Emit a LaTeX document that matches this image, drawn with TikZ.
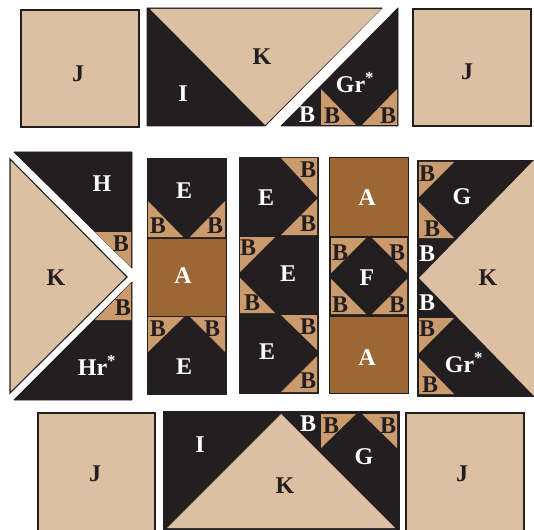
\documentclass[tikz,border=0pt]{standalone}
\usepackage{fontspec}
\setmainfont{Liberation Serif}

\definecolor{quiltdark}{HTML}{231F20}
\definecolor{quilttan}{HTML}{DDBFA2}
\definecolor{quiltpatch}{HTML}{CB9B6E}
\definecolor{quiltbrown}{HTML}{9D6735}

\newcommand{\quiltstar}{\textsuperscript{*}}

\tikzset{
	darkpiece/.style={fill=quiltdark, draw=quiltdark, line width=0.8pt, line join=round},
	tanpiece/.style={fill=quilttan, draw=quiltdark, line width=1.1pt},
	lightpiece/.style={fill=quilttan, draw=none},
	patchpiece/.style={fill=quiltpatch, draw=none},
	brownpiece/.style={fill=quiltbrown, draw=quiltdark, line width=1pt},
	darklabel/.style={text=quiltdark, font=\fontsize{24}{24}\selectfont\bfseries, inner sep=0pt},
	whitelabel/.style={text=white, font=\fontsize{24}{24}\selectfont\bfseries, inner sep=0pt},
}

\begin{document}
\begin{tikzpicture}[x=1pt, y=-1pt]
	\useasboundingbox (0, 0) rectangle (534, 529);

	% plain squares
	\draw[tanpiece] (21, 10) rectangle (139, 127);
	\draw[tanpiece] (413, 9) rectangle (531, 126);
	\draw[tanpiece] (38, 413) rectangle (155, 535);
	\draw[tanpiece] (406, 413) rectangle (524, 535);

	% top row
	\draw[darkpiece] (147, 8) -- (382, 8) -- (265, 126) -- (147, 126) -- cycle;
	\fill[lightpiece] (150, 9) -- (381, 9) -- (265, 125) -- cycle;
	\draw[darkpiece] (398, 8) -- (398, 126) -- (281, 126) -- cycle;

	% left block
	\draw[tanpiece] (10, 159) -- (127, 277) -- (10, 393) -- cycle;
	\draw[darkpiece] (14, 152) -- (132, 152) -- (132, 268) -- cycle;
	\draw[darkpiece] (14, 400) -- (132, 400) -- (132, 282) -- cycle;

	% columns
	\draw[darkpiece] (147, 158) rectangle (226, 394);
	\draw[brownpiece] (147, 238) rectangle (226, 316);
	\draw[darkpiece] (239, 157) rectangle (318, 393);
	\draw[darkpiece] (329, 237) rectangle (408, 316);
	\draw[brownpiece] (329, 158) rectangle (408, 236.5);
	\draw[brownpiece] (329, 316) rectangle (408, 393);

	% right block
	\draw[darkpiece] (417, 160) rectangle (534, 396);
	\fill[lightpiece] (534, 160) -- (419, 278) -- (534, 396) -- cycle;

	% bottom row
	\draw[darkpiece] (163, 411) rectangle (399, 529);
	\fill[lightpiece] (167, 528) -- (281, 414) -- (395, 528) -- cycle;

	% all the small triangles
	\foreach \ax/\ay/\bx/\by/\cx/\cy in {
		321/89/321/125/356/125, 362/125/397/125/397/89,
		95/232/131/232/131/267, 95/320/131/320/131/283,
		148/201/148/237/183/237, 225/201/225/237/190/237,
		148/317/184/317/148/352, 225/317/225/352/190/317,
		281/158/317/158/317/197, 281/235/317/235/317/199,
		240/237/275/237/240/272, 240/278/240/313/275/313,
		281/315/317/315/317/350, 281/392/317/392/317/356,
		331/238/366/238/331/273, 372/238/407/238/407/273,
		331/279/331/314/366/314, 407/279/407/314/372/314,
		419/162/454/162/419/197, 419/202/419/238/454/238,
		419/318/454/318/419/353, 419/358/419/394/454/394,
		321/414/356/414/321/448, 362/414/397/414/397/448}
		\fill[patchpiece] (\ax, \ay) -- (\bx, \by) -- (\cx, \cy) -- cycle;

	% labels
	\node[darklabel] (jtl) at (78, 74) {J};
	\node[darklabel] (jtr) at (467, 72) {J};
	\node[darklabel] (jbl) at (95, 474) {J};
	\node[darklabel] (jbr) at (462, 474) {J};

	\node[darklabel] (ktop) at (262, 57) {K};
	\node[whitelabel] (itop) at (183, 94) {I};
	\node[whitelabel] (grtop) at (355, 83) {Gr\quiltstar};
	\node[whitelabel] (btopa) at (307, 115) {B};
	\node[darklabel] (btopb) at (332, 116) {B};
	\node[darklabel] (btopc) at (388, 116) {B};

	\node[darklabel] (kleft) at (56, 278) {K};
	\node[whitelabel] (h) at (102, 184) {H};
	\node[whitelabel] (hr) at (97, 365) {Hr\quiltstar};
	\node[darklabel] (bla) at (121, 244) {B};
	\node[darklabel] (blb) at (123, 308) {B};

	\node[whitelabel] (ea) at (184, 191) {E};
	\node[darklabel] (bca) at (158, 226) {B};
	\node[darklabel] (bcb) at (215, 226) {B};
	\node[whitelabel] (aa) at (183, 276) {A};
	\node[darklabel] (bcc) at (158, 329) {B};
	\node[darklabel] (bcd) at (212, 329) {B};
	\node[whitelabel] (eb) at (184, 367) {E};

	\node[darklabel] (bda) at (308, 170) {B};
	\node[whitelabel] (ec) at (266, 198) {E};
	\node[darklabel] (bdb) at (308, 224) {B};
	\node[darklabel] (bdc) at (248, 248) {B};
	\node[whitelabel] (ed) at (288, 274) {E};
	\node[darklabel] (bdd) at (252, 303) {B};
	\node[darklabel] (bde) at (308, 327) {B};
	\node[whitelabel] (ee) at (267, 352) {E};
	\node[darklabel] (bdf) at (308, 381) {B};

	\node[whitelabel] (ab) at (367, 198) {A};
	\node[darklabel] (bea) at (340, 253) {B};
	\node[darklabel] (beb) at (397, 253) {B};
	\node[whitelabel] (f) at (367, 278) {F};
	\node[darklabel] (bec) at (340, 305) {B};
	\node[darklabel] (bed) at (397, 305) {B};
	\node[whitelabel] (ac) at (367, 358) {A};

	\node[darklabel] (bfa) at (427, 174) {B};
	\node[whitelabel] (ga) at (462, 197) {G};
	\node[darklabel] (bfb) at (432, 229) {B};
	\node[whitelabel] (bfc) at (427, 254) {B};
	\node[darklabel] (kright) at (488, 278) {K};
	\node[whitelabel] (bfd) at (427, 303) {B};
	\node[darklabel] (bfe) at (427, 329) {B};
	\node[whitelabel] (grb) at (464, 363) {Gr\quiltstar};
	\node[darklabel] (bff) at (430, 385) {B};

	\node[whitelabel] (ib) at (200, 445) {I};
	\node[whitelabel] (bga) at (308, 424) {B};
	\node[darklabel] (bgb) at (331, 426) {B};
	\node[darklabel] (bgc) at (388, 426) {B};
	\node[whitelabel] (gb) at (364, 457) {G};
	\node[darklabel] (kb) at (285, 486) {K};
\end{tikzpicture}
\end{document}
